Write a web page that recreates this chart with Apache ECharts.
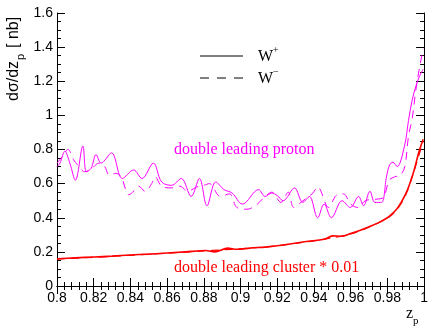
<!DOCTYPE html>
<html>
<head>
<meta charset="utf-8">
<script src="https://cdn.jsdelivr.net/npm/echarts@6/dist/echarts.min.js"></script>
<style>html,body{margin:0;padding:0;background:#fff}#c{width:431px;height:327px}</style>
</head>
<body>
<div id="c"></div>
<script>
// W+ double leading proton (solid magenta)
const zProtonPlus = [0.8000,0.8016,0.8043,0.8070,0.8100,0.8141,0.8160,0.8186,0.8213,0.8240,0.8297,0.8356,0.8418,0.8463,0.8525,0.8570,0.8624,0.8677,0.8731,0.8776,0.8817,0.8865,0.8910,0.8954,0.9010,0.9098,0.9133,0.9170,0.9200,0.9232,0.9294,0.9339,0.9375,0.9420,0.9455,0.9495,0.9553,0.9598,0.9643,0.9670,0.9705,0.9732,0.9768,0.9795,0.9812,0.9830,0.9853,0.9893,0.9915,0.9935,0.9955,0.9975,0.9995];
const vProtonPlus = [0.70,0.72,0.79,0.72,0.62,0.82,0.67,0.69,0.77,0.72,0.78,0.63,0.68,0.63,0.72,0.61,0.59,0.63,0.525,0.63,0.47,0.61,0.565,0.545,0.48,0.565,0.525,0.545,0.53,0.50,0.575,0.49,0.525,0.40,0.48,0.40,0.50,0.46,0.525,0.47,0.555,0.49,0.49,0.64,0.71,0.725,0.70,0.82,0.97,1.09,1.17,1.23,1.27];
// W- double leading proton (dashed magenta)
const zProtonMinus = [0.8000,0.8030,0.8060,0.8090,0.8120,0.8150,0.8180,0.8230,0.8260,0.8285,0.8320,0.8350,0.8374,0.8390,0.8427,0.8445,0.8480,0.8516,0.8535,0.8570,0.8624,0.8669,0.8713,0.8760,0.8800,0.8830,0.8890,0.8940,0.8980,0.9035,0.9080,0.9130,0.9170,0.9220,0.9260,0.9290,0.9340,0.9390,0.9420,0.9480,0.9520,0.9560,0.9600,0.9640,0.9680,0.9750,0.9780,0.9810,0.9840,0.9870,0.9895,0.9915,0.9935,0.9955,0.9975,0.9995];
const vProtonMinus = [0.72,0.76,0.80,0.74,0.70,0.67,0.68,0.72,0.70,0.65,0.66,0.64,0.565,0.535,0.565,0.585,0.555,0.60,0.64,0.585,0.575,0.585,0.555,0.58,0.59,0.60,0.525,0.54,0.46,0.45,0.47,0.52,0.55,0.49,0.55,0.46,0.50,0.54,0.58,0.46,0.53,0.54,0.48,0.46,0.50,0.51,0.52,0.62,0.64,0.65,0.70,0.88,0.98,1.15,1.28,1.39];
// W+ double leading cluster * 0.01 (solid red)
const zClusterPlus = [0.8000,0.8100,0.8200,0.8300,0.8400,0.8500,0.8580,0.8700,0.8810,0.8860,0.8930,0.8980,0.9050,0.9160,0.9250,0.9340,0.9460,0.9500,0.9550,0.9600,0.9660,0.9700,0.9750,0.9800,0.9820,0.9850,0.9875,0.9910,0.9946,0.9970,0.9995];
const vClusterPlus = [0.160,0.165,0.170,0.175,0.182,0.187,0.192,0.200,0.208,0.200,0.222,0.215,0.222,0.231,0.243,0.258,0.275,0.294,0.292,0.308,0.330,0.348,0.370,0.400,0.418,0.450,0.490,0.565,0.680,0.780,0.860];
// W- double leading cluster * 0.01 (dashed red)
const zClusterMinus = [0.8000,0.8100,0.8200,0.8300,0.8400,0.8500,0.8600,0.8700,0.8800,0.8900,0.9000,0.9100,0.9200,0.9300,0.9400,0.9500,0.9600,0.9700,0.9800,0.9850,0.9900,0.9950,0.9995];
const vClusterMinus = [0.158,0.163,0.168,0.174,0.180,0.186,0.192,0.198,0.205,0.212,0.218,0.226,0.236,0.250,0.265,0.282,0.305,0.345,0.398,0.445,0.535,0.690,0.850];

const xTickLabels = ['0.8','0.82','0.84','0.86','0.88','0.9','0.92','0.94','0.96','0.98','1'];
const yTickLabels = ['0','0.2','0.4','0.6','0.8','1','1.2','1.4','1.6'];

const pairs = (xs, ys) => xs.map((x, i) => [x, ys[i]]);
const labelFont = {fontFamily: 'Liberation Sans, Arial, sans-serif', fontSize: 14, color: '#000'};

const axisCommon = {
  axisLine: {show: true, lineStyle: {color: '#000', width: 1}},
  axisTick: {show: true, inside: true, length: 8, lineStyle: {color: '#000'}},
  minorTick: {show: true, length: 4, lineStyle: {color: '#000'}},
  splitLine: {show: false},
  minorSplitLine: {show: false}
};

const chart = echarts.init(document.getElementById('c'));
chart.setOption({
  animation: false,
  backgroundColor: '#fff',
  grid: {left: 57, right: 2, top: 13, bottom: 41, containLabel: false},
  xAxis: [
    Object.assign({type: 'value', min: 0.8, max: 1.0, interval: 0.02, position: 'bottom',
      axisLabel: Object.assign({margin: 5, formatter: v => xTickLabels[Math.round((v - 0.8) / 0.02)] || ''}, labelFont)},
      axisCommon, {minorTick: {show: true, splitNumber: 5, length: 4, lineStyle: {color: '#000'}}}),
    Object.assign({type: 'value', min: 0.8, max: 1.0, interval: 0.02, position: 'top', axisLabel: {show: false}},
      axisCommon, {minorTick: {show: true, splitNumber: 5, length: 4, lineStyle: {color: '#000'}}})
  ],
  yAxis: [
    Object.assign({type: 'value', min: 0, max: 1.6, interval: 0.2, position: 'left',
      axisLabel: Object.assign({margin: 4, formatter: v => yTickLabels[Math.round(v / 0.2)] || ''}, labelFont)},
      axisCommon, {minorTick: {show: true, splitNumber: 4, length: 4, lineStyle: {color: '#000'}}}),
    Object.assign({type: 'value', min: 0, max: 1.6, interval: 0.2, position: 'right', axisLabel: {show: false}},
      axisCommon, {minorTick: {show: true, splitNumber: 4, length: 4, lineStyle: {color: '#000'}}})
  ],
  series: [
    {name: 'W+ proton', type: 'line', data: pairs(zProtonPlus, vProtonPlus), smooth: 0.35, showSymbol: false,
     lineStyle: {color: '#ff00ff', width: 1}, clip: true},
    {name: 'W- proton', type: 'line', data: pairs(zProtonMinus, vProtonMinus), smooth: 0.35, showSymbol: false,
     lineStyle: {color: '#ff00ff', width: 1, type: [8, 6]}, clip: true},
    {name: 'W+ cluster', type: 'line', data: pairs(zClusterPlus, vClusterPlus), smooth: 0.3, showSymbol: false,
     lineStyle: {color: '#ff0000', width: 1.6}, clip: true},
    {name: 'W- cluster', type: 'line', data: pairs(zClusterMinus, vClusterMinus), smooth: 0.3, showSymbol: false,
     lineStyle: {color: '#ff0000', width: 1.2, type: [8, 6]}, clip: true}
  ],
  graphic: [
    // y axis title
    {type: 'group', x: 14, y: 101, rotation: Math.PI / 2, children: [
      {type: 'text', x: 0, y: 0, style: {text: 'dσ/dz', fontFamily: 'Liberation Sans, Arial, sans-serif', fontSize: 16, fill: '#000', textVerticalAlign: 'middle'}},
      {type: 'text', x: 41, y: 7, style: {text: 'p', fontFamily: 'Liberation Sans, Arial, sans-serif', fontSize: 11, fill: '#000', textVerticalAlign: 'middle'}},
      {type: 'text', x: 53, y: 0, style: {text: '[ nb]', fontFamily: 'Liberation Sans, Arial, sans-serif', fontSize: 16, fill: '#000', textVerticalAlign: 'middle'}}
    ]},
    // x axis title
    {type: 'text', x: 406, y: 314, style: {text: 'z', fontFamily: 'Liberation Serif, Times New Roman, serif', fontSize: 16, fill: '#000', textVerticalAlign: 'middle'}},
    {type: 'text', x: 413, y: 321, style: {text: 'p', fontFamily: 'Liberation Serif, Times New Roman, serif', fontSize: 11, fill: '#000', textVerticalAlign: 'middle'}},
    // legend
    {type: 'line', shape: {x1: 200, y1: 56, x2: 243, y2: 56}, style: {stroke: '#000', lineWidth: 1}},
    {type: 'line', shape: {x1: 200, y1: 78, x2: 243, y2: 78}, style: {stroke: '#000', lineWidth: 1, lineDash: [9, 8]}},
    {type: 'text', x: 258, y: 57, style: {text: 'W', fontFamily: 'Liberation Serif, Times New Roman, serif', fontSize: 16, fill: '#000', textVerticalAlign: 'middle'}},
    {type: 'text', x: 273, y: 50, style: {text: '+', fontFamily: 'Liberation Serif, Times New Roman, serif', fontSize: 10, fill: '#000', textVerticalAlign: 'middle'}},
    {type: 'text', x: 258, y: 79, style: {text: 'W', fontFamily: 'Liberation Serif, Times New Roman, serif', fontSize: 16, fill: '#000', textVerticalAlign: 'middle'}},
    {type: 'text', x: 273, y: 72, style: {text: '−', fontFamily: 'Liberation Serif, Times New Roman, serif', fontSize: 10, fill: '#000', textVerticalAlign: 'middle'}},
    // annotations
    {type: 'text', x: 174, y: 150, style: {text: 'double leading proton', fontFamily: 'Liberation Serif, Times New Roman, serif', fontSize: 16, fill: '#ff00ff', textVerticalAlign: 'middle'}},
    {type: 'text', x: 174, y: 268, style: {text: 'double leading cluster * 0.01', fontFamily: 'Liberation Serif, Times New Roman, serif', fontSize: 16, fill: '#ff0000', textVerticalAlign: 'middle'}}
  ]
});
</script>
</body>
</html>
